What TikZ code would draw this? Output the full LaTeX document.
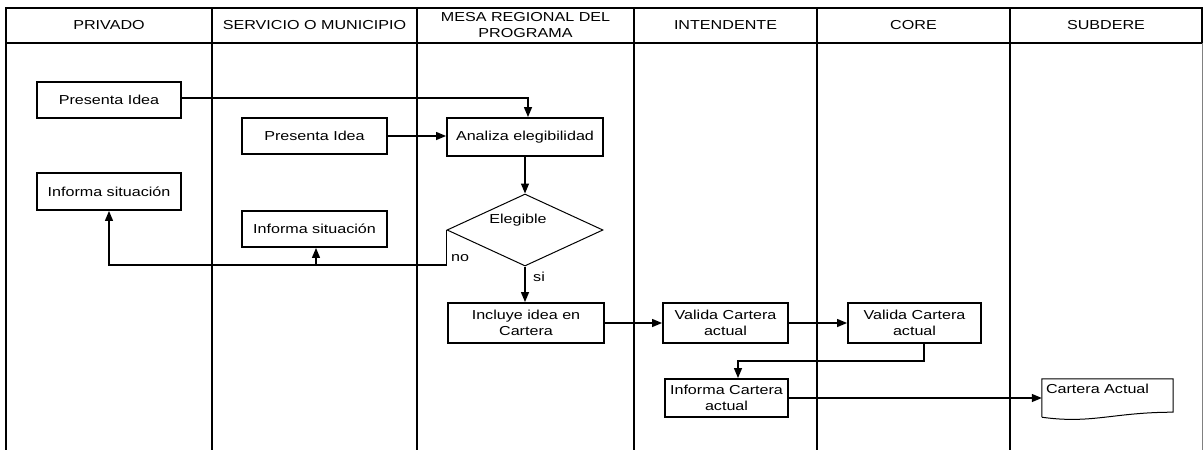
\documentclass[tikz,border=0pt]{standalone}
\usepackage{fontspec}
\setmainfont{Liberation Sans}[FakeStretch=1.24]
\usetikzlibrary{arrows.meta,shapes.geometric}
\begin{document}
\begin{tikzpicture}[x=1pt,y=-1pt,
  every node/.style={font=\fontsize{13}{15.6}\selectfont},
  lane/.style={line width=2.2pt},
  stepbox/.style={draw, line width=1.9pt, inner sep=0pt, align=center},
  decision/.style={draw, diamond, line width=1pt, inner sep=0pt,
                   minimum width=156pt, minimum height=72pt},
  flow/.style={line width=1.3pt, -{Triangle[length=10pt,width=8pt]}},
  lbl/.style={inner sep=0pt}
]
\useasboundingbox (0,0) rectangle (1204,450);

% swimlane frame and header row
\draw[lane] (6,8) rectangle (1202,43);
\draw[lane] (6,8) -- (6,450);
\foreach \x in {212,417,634,817,1010}
  \draw[lane] (\x,8) -- (\x,450);
\draw[line width=0.8pt, gray] (1202,43) -- (1202,450);

\node (h1) at (109,25.5)   {PRIVADO};
\node (h2) at (314.5,25.5) {SERVICIO O MUNICIPIO};
\node[align=center, font=\fontsize{13}{16.5}\selectfont] (h3) at (525.5,25) {MESA REGIONAL DEL\\PROGRAMA};
\node (h4) at (725.5,25.5) {INTENDENTE};
\node (h5) at (913.5,25.5) {CORE};
\node (h6) at (1106,25.5)  {SUBDERE};

% process steps
\node[stepbox, minimum width=144pt, minimum height=36pt] (pi1) at (109,100)   {Presenta Idea};
\node[stepbox, minimum width=145pt, minimum height=36pt] (pi2) at (314.5,136) {Presenta Idea};
\node[stepbox, minimum width=144pt, minimum height=37pt] (is1) at (109,191.5) {Informa situación};
\node[stepbox, minimum width=145pt, minimum height=36pt] (is2) at (314.5,229) {Informa situación};
\node[stepbox, minimum width=156pt, minimum height=38pt] (an)  at (525,137)   {Analiza elegibilidad};
\node[decision] (el) at (525,230) {};
\node[lbl] (eltext) at (518,220) {Elegible};
\node[stepbox, minimum width=156pt, minimum height=40pt] (inc) at (526,323)   {Incluye idea en\\Cartera};
\node[stepbox, minimum width=125pt, minimum height=40pt] (va1) at (725.5,323) {Valida Cartera\\actual};
\node[stepbox, minimum width=133pt, minimum height=40pt] (va2) at (914.5,323) {Valida Cartera\\actual};
\node[stepbox, minimum width=123pt, minimum height=38pt] (ic)  at (726.5,398) {Informa Cartera\\actual};

% document symbol
\node[inner sep=0pt, minimum width=131pt, minimum height=38pt] (doc) at (1107.5,398) {};
\draw[line width=1pt] (doc.south west) -- (doc.north west) -- (doc.north east)
  -- ([yshift=5pt]doc.south east)
  .. controls ([xshift=-60pt,yshift=5pt]doc.south east) and ([xshift=50pt,yshift=-7pt]doc.south west) ..
  (doc.south west);
\node[lbl, anchor=north west] (doctext) at ([xshift=4pt,yshift=-5pt]doc.north west) {Cartera Actual};

% connectors
\draw[flow] ([yshift=2pt]pi1.east) -| ([xshift=3pt]an.north);
\draw[flow] (pi2.east) -- (pi2.east -| an.west);
\draw[flow] (an.south) -- (el.north);
\draw[flow] (el.west) -- ++(0,35) coordinate (nobend) -| (is1.south);
\draw[flow] ([xshift=1.5pt]is2.south |- nobend) -- ([xshift=1.5pt]is2.south);
\node[lbl, anchor=west] (nolbl) at (451,258) {no};
\draw[flow] (el.south) -- (el.south |- inc.north);
\node[lbl, anchor=west] (silbl) at (533,277) {si};
\draw[flow] (inc.east) -- (va1.west);
\draw[flow] (va1.east) -- (va2.west);
\draw[flow] ([xshift=9.5pt]va2.south) -- ++(0,17) -| ([xshift=11.5pt]ic.north);
\draw[flow] (ic.east) -- (ic.east -| doc.west);
\end{tikzpicture}
\end{document}
